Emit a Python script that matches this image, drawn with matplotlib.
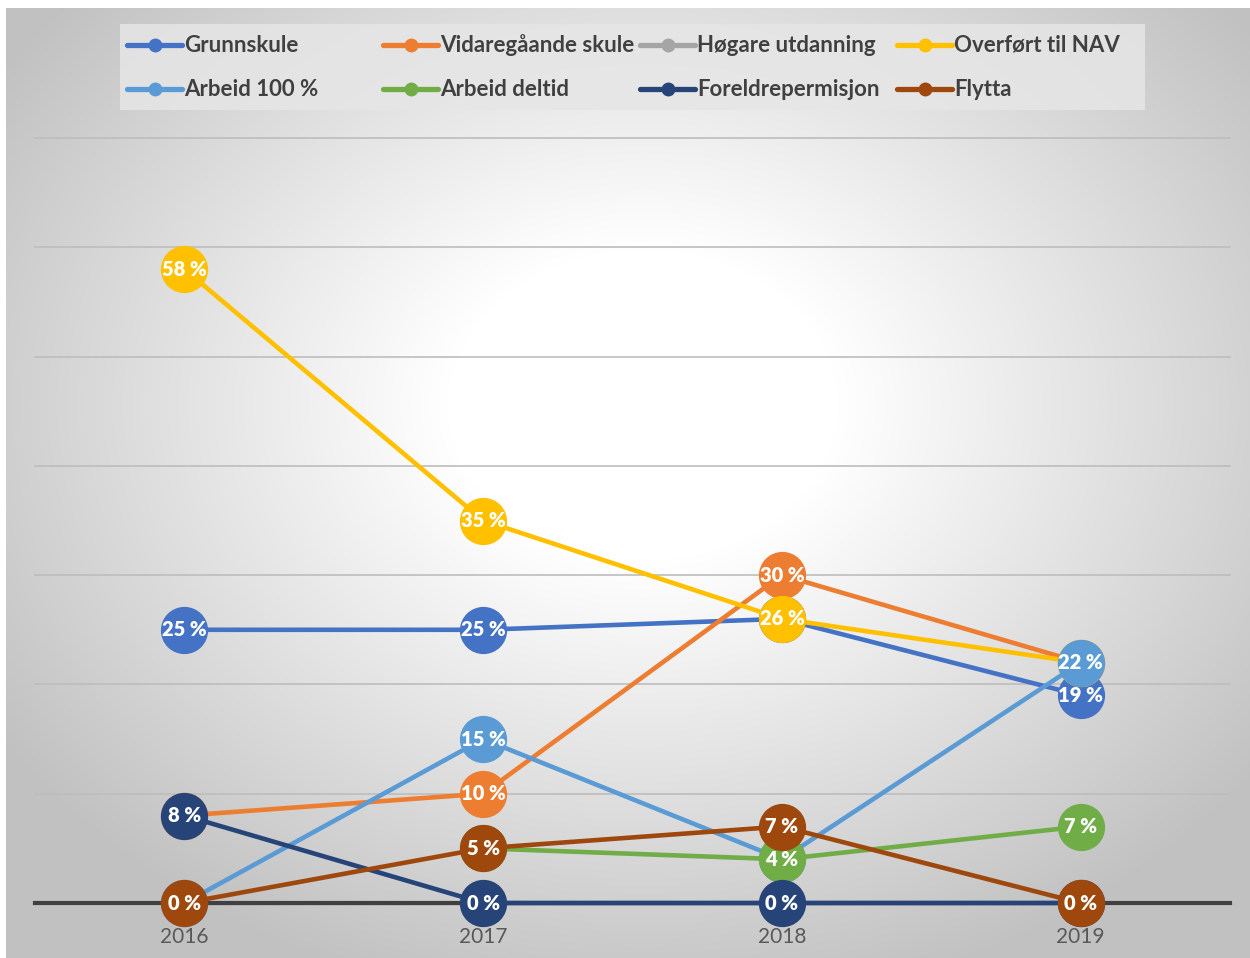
import numpy as np
import matplotlib
matplotlib.use("Agg")
import matplotlib.pyplot as plt
from matplotlib.lines import Line2D
from matplotlib.patches import Rectangle

years = ["2016", "2017", "2018", "2019"]
series_names = ["Grunnskule", "Vidaregåande skule", "Høgare utdanning", "Overført til NAV",
                "Arbeid 100 %", "Arbeid deltid", "Foreldrepermisjon", "Flytta"]
grunnskule = [25, 25, 26, 19]
vidaregaande = [8, 10, 30, 22]
hogare = [0, 0, 0, 0]
nav = [58, 35, 26, 22]
arbeid100 = [0, 15, 4, 22]
deltid = [np.nan, 5, 4, 7]
foreldre = [8, 0, 0, 0]
flytta = [0, 5, 7, 0]
colors = ["#4472C4", "#ED7D31", "#A5A5A5", "#FFC000",
          "#5B9BD5", "#70AD47", "#264478", "#9E480E"]
values = [grunnskule, vidaregaande, hogare, nav, arbeid100, deltid, foreldre, flytta]

W, H = 1250, 958
fig = plt.figure(figsize=(W / 100, H / 100), dpi=100)
fig.patch.set_facecolor("white")

# radial gradient background
bg = fig.add_axes([6 / W, 0, 1 - 6 / W, 1 - 8 / H], zorder=-10)
yy, xx = np.mgrid[0:H, 0:W]
cx, cy = 640, 400
r = np.sqrt(((xx - cx) / 700.0) ** 2 + ((yy - cy) / 560.0) ** 2)
g = np.clip(1.0 - 0.25 * np.clip(r - 0.28, 0, None) / 0.85, 0.76, 1.0)
img = np.dstack([g, g, g])
bg.imshow(img, aspect="auto", extent=[0, 1, 0, 1], interpolation="bilinear")
bg.axis("off")

ax = fig.add_axes([35 / W, (H - 903) / H, (1230 - 35) / W, (903 - 138) / H])
ax.patch.set_alpha(0)
x = np.arange(len(years))
ax.set_xlim(-0.5, 3.5)
ax.set_ylim(0, 70)
for v in range(10, 71, 10):
    ax.axhline(v, color="#bdbdbd", lw=1.2, zorder=1, clip_on=False)
ax.axhline(0, color="#404040", lw=3.0, zorder=2, clip_on=False)
for s in ax.spines.values():
    s.set_visible(False)
ax.set_yticks([])
ax.set_xticks(x)
ax.set_xticklabels(years, fontsize=15, color="#595959", family="Lato")
ax.tick_params(axis="x", length=0, pad=17)

lab_font = dict(family="Lato", fontweight="heavy", fontsize=14.5, color="white")
for i, (name, vals, c) in enumerate(zip(series_names, values, colors)):
    vals = np.array(vals, dtype=float)
    hidden = name == "Høgare utdanning"
    z = 1.5 if hidden else 3 + i
    ax.plot(x, vals, color=c, lw=2.5 if hidden else 3.3, marker="o", markersize=33,
            markerfacecolor=c, markeredgecolor=c, zorder=z, clip_on=False)
    if hidden:
        continue
    for xi, v in zip(x, vals):
        if np.isnan(v):
            continue
        ax.text(xi, v, f"{int(v)} %", ha="center", va="center", zorder=3 + i + 0.5,
                **lab_font)

# legend (manual, equal-width columns like the original)
fig.add_artist(Rectangle((120 / W, 1 - 110 / H), (1145 - 120) / W, (110 - 24) / H,
                         transform=fig.transFigure, facecolor="#e6e6e6",
                         edgecolor="none", alpha=0.85, zorder=1))
col_x = [127, 383, 640, 897]
row_y = [45, 89]
for i, (name, c) in enumerate(zip(series_names, colors)):
    cx0 = col_x[i % 4]
    ry = row_y[i // 4]
    fy = 1 - ry / H
    fig.add_artist(Line2D([cx0 / W, (cx0 + 55) / W], [fy, fy], transform=fig.transFigure,
                          color=c, lw=3.8, solid_capstyle="round", zorder=2))
    fig.add_artist(Line2D([(cx0 + 27.5) / W], [fy], transform=fig.transFigure,
                          color=c, marker="o", markersize=9, lw=0, zorder=3))
    fig.text((cx0 + 57) / W, fy, name, ha="left", va="center", fontsize=16,
             family="Lato", fontweight="bold", color="#404040", zorder=3)

fig.savefig("out.png", dpi=100)
